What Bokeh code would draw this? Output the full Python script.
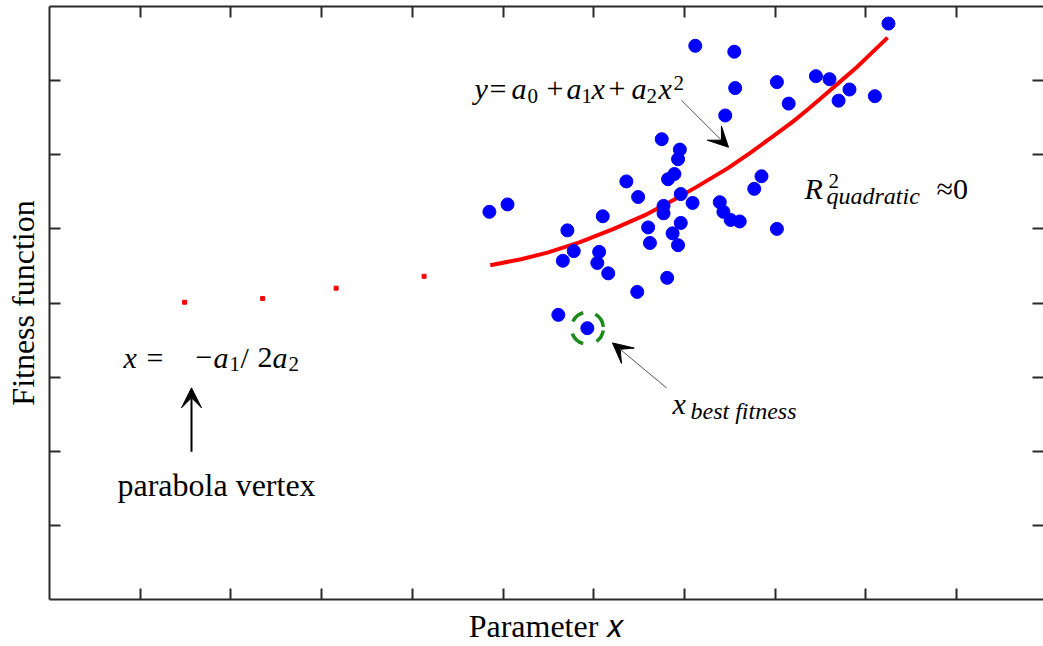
import math
from bokeh.plotting import figure
from bokeh.models import Range1d, LinearAxis, FixedTicker, Label, Arrow, VeeHead, CustomJSTickFormatter
from bokeh.embed import file_html
from bokeh.resources import INLINE

# ---- data ----
pts_x = [4.85, 5.05, 5.71, 5.78, 5.66, 6.06, 6.04, 6.16, 6.10, 6.36, 6.49, 6.60, 6.62,
         6.77, 6.77, 6.82, 6.89, 6.93, 6.95, 6.75, 6.96, 7.09, 6.96, 6.87, 6.93, 6.81,
         6.48, 5.61, 5.93, 7.39, 7.43, 7.51, 7.61, 7.45, 7.56, 7.55, 7.12, 7.77, 7.85,
         8.02, 8.02, 8.15, 8.45, 8.60, 8.82, 8.70, 9.10, 9.25]
pts_y = [5.23, 5.33, 4.98, 4.70, 4.57, 4.69, 4.54, 4.40, 5.17, 5.64, 5.43, 5.02, 4.81,
         5.31, 5.21, 5.67, 5.74, 5.94, 6.07, 6.21, 5.47, 5.35, 5.08, 4.94, 4.78, 4.34,
         4.15, 3.84, 3.66, 5.36, 5.23, 5.12, 5.10, 6.53, 6.90, 7.39, 7.47, 5.54, 5.71,
         5.00, 6.98, 6.69, 7.06, 7.02, 6.88, 6.73, 6.79, 7.77]
best_index = 28

fit_x = [4.86, 5.20, 5.49, 5.85, 6.22, 6.59, 6.88, 7.14, 7.48, 7.73, 7.98, 8.20, 8.36,
         8.55, 8.72, 8.90, 9.02, 9.24]
fit_y = [4.51, 4.59, 4.68, 4.82, 5.00, 5.20, 5.39, 5.57, 5.82, 6.03, 6.25, 6.45, 6.61,
         6.81, 6.99, 7.18, 7.32, 7.58]

vertex_x = [1.49, 2.35, 3.16, 4.13]
vertex_y = [4.01, 4.06, 4.20, 4.36]

x_ticks = [1, 2, 3, 4, 5, 6, 7, 8, 9, 10]
y_ticks = [1, 2, 3, 4, 5, 6, 7]

# ---- layout helpers (pixel -> data for annotation placement) ----
PXX = 90.7
PXY = 74.25
def X(px):
    return (px - 49) / PXX
def Y(py):
    return (600 - py) / PXY

FONT = "Liberation Serif"
MAIN = 30
SUB = 21
AXC = "#2b2b2b"

p = figure(width=1043, height=646, output_backend="svg", toolbar_location=None,
           x_range=Range1d(0, 994 / PXX), y_range=Range1d(0, 8),
           x_axis_location=None, y_axis_location=None,
           min_border_left=49, min_border_right=0, min_border_top=6, min_border_bottom=46,
           background_fill_color="white", border_fill_color="white")
p.outline_line_color = None
p.xgrid.visible = False
p.ygrid.visible = False


def mk_axis(ticks, line=True, label=None, standoff=10):
    ax = LinearAxis(ticker=FixedTicker(ticks=ticks, minor_ticks=[]),
                    formatter=CustomJSTickFormatter(code="return ''"),
                    major_tick_in=11, major_tick_out=0,
                    minor_tick_in=0, minor_tick_out=0,
                    major_label_text_font_size="0px", major_label_standoff=0,
                    axis_line_color=AXC if line else None, axis_line_width=2,
                    major_tick_line_color=AXC, major_tick_line_width=2)
    if label:
        ax.axis_label = label
        ax.axis_label_text_font = FONT
        ax.axis_label_text_font_size = "32px"
        ax.axis_label_text_font_style = "normal"
        ax.axis_label_text_color = "black"
        ax.axis_label_standoff = standoff
    return ax

p.add_layout(mk_axis(y_ticks, label="Fitness function", standoff=9), "left")
p.add_layout(mk_axis(x_ticks, label="Parameter 𝑥", standoff=8), "below")
p.add_layout(mk_axis(x_ticks), "above")
p.add_layout(mk_axis(y_ticks, line=False), "right")

# fitted curve and its extension toward the vertex
p.line(fit_x, fit_y, line_width=4, line_color="#ff0000", line_join="round")
p.scatter(vertex_x, vertex_y, marker="square", size=4, color="#ff0000")

# data points
p.scatter(pts_x, pts_y, size=13, color="#0000ff")

# dashed green ring around the best point
starts = [5, 105, 200, 305]
ends = [60, 155, 255, 352]
p.arc(x=[pts_x[best_index]] * 4, y=[pts_y[best_index]] * 4, radius=16, radius_units="screen",
      start_angle=[math.radians(a) for a in starts], end_angle=[math.radians(a) for a in ends],
      line_color="#1a8a1a", line_width=3.5)


def put(px, py, txt, size=MAIN, style="normal"):
    # baseline correction: shift up by the font's descent
    sy = py - 0.22 * size
    p.add_layout(Label(x=X(px), y=Y(sy), text=txt, text_font=FONT, text_font_size=f"{size}px",
                       text_font_style=style, text_align="left", text_baseline="alphabetic",
                       text_color="black"))

# y = a0 + a1 x + a2 x^2
put(474, 95, "y", style="italic")
put(489, 95, "=")
put(511, 95, "a", style="italic")
put(527, 100, "0", size=SUB)
put(546, 95, "+")
put(566, 95, "a", style="italic")
put(581, 100, "1", size=SUB)
put(591, 95, "x", style="italic")
put(608, 95, "+")
put(631, 95, "a", style="italic")
put(646, 100, "2", size=SUB)
put(658, 95, "x", style="italic")
put(673, 87, "2", size=SUB)

# R^2_quadratic ~ 0
put(804, 195, "R", style="italic")
put(828, 185, "2", size=SUB)
put(826, 201, "quadratic", size=24, style="italic")
put(936, 195, "≈0")

# x = -a1/2a2
put(123, 364, "x", style="italic")
put(146, 364, "=")
put(195, 364, "−")
put(213, 364, "a", style="italic")
put(229, 369, "1", size=SUB)
put(240, 364, "/")
put(257, 364, "2")
put(272, 364, "a", style="italic")
put(288, 369, "2", size=SUB)

put(117, 492, "parabola vertex", size=32)

# x_best fitness
put(672, 410, "x", style="italic")
put(690, 416, "best fitness", size=24, style="italic")

# arrows
p.add_layout(Arrow(end=VeeHead(size=20, fill_color="black", line_color="black", line_width=1),
                   x_start=X(191), y_start=Y(452), x_end=X(191), y_end=Y(388),
                   line_width=2, line_color="black"))
p.add_layout(Arrow(end=VeeHead(size=20, fill_color="black", line_color="black", line_width=1),
                   x_start=X(681), y_start=Y(100), x_end=X(728), y_end=Y(147),
                   line_width=1, line_color="#555555"))
p.add_layout(Arrow(end=VeeHead(size=20, fill_color="black", line_color="black", line_width=1),
                   x_start=X(666), y_start=Y(388), x_end=X(612), y_end=Y(343),
                   line_width=1, line_color="#555555"))

open("out.html", "w").write(file_html(p, INLINE))
